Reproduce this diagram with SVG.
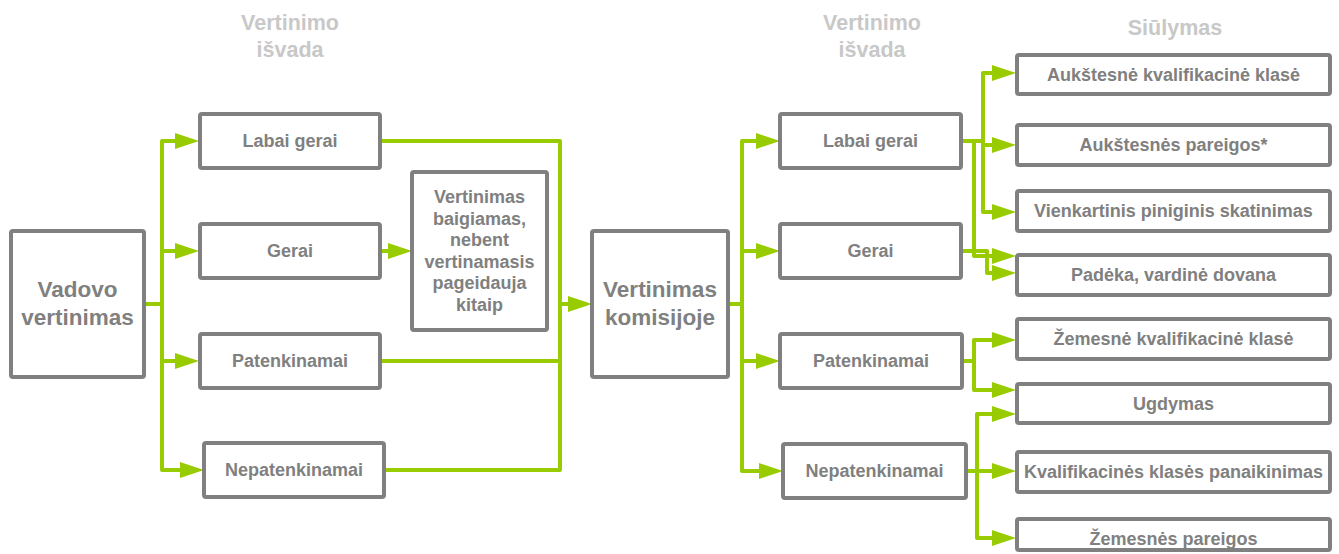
<svg xmlns="http://www.w3.org/2000/svg" width="1339" height="554" viewBox="0 0 1339 554">
  <defs>
    <style>
      .box { fill: #ffffff; stroke: #808080; stroke-width: 4; }
      .lbl { font-family: "Liberation Sans", Arial, sans-serif; font-weight: bold; font-size: 18px; fill: #808080; text-anchor: middle; }
      .big { font-size: 22.5px; }
      .hdr { font-family: "Liberation Sans", Arial, sans-serif; font-weight: bold; font-size: 21.5px; fill: #c8c8c8; text-anchor: middle; }
      .link { fill: none; stroke: #99cc00; stroke-width: 4; stroke-linejoin: round; stroke-linecap: round; }
      .arr { marker-end: url(#head); }
    </style>
    <marker id="head" viewBox="0 0 24 16" refX="4" refY="8" markerWidth="24" markerHeight="16" markerUnits="userSpaceOnUse" orient="auto">
      <path d="M0,0 L24,8 L0,16 z" fill="#99cc00"/>
    </marker>
  </defs>

  <!-- column headings -->
  <g id="headings">
    <text class="hdr" x="290" y="30">Vertinimo</text>
    <text class="hdr" x="290" y="57">išvada</text>
    <text class="hdr" x="872" y="30">Vertinimo</text>
    <text class="hdr" x="872" y="57">išvada</text>
    <text class="hdr" x="1175" y="35">Siūlymas</text>
  </g>

  <!-- connectors -->
  <g id="connectors">
    <!-- manager evaluation fan-out -->
    <path class="link" d="M144,304 H162"/>
    <path class="link arr" d="M162,304 V141 H179"/>
    <path class="link arr" d="M162,304 V251 H179"/>
    <path class="link arr" d="M162,304 V361 H179"/>
    <path class="link arr" d="M162,304 V470 H184"/>
    <!-- Gerai to closing note -->
    <path class="link arr" d="M380,251 H392"/>
    <!-- collecting bus to commission -->
    <path class="link" d="M380,141 H560 V470 H384"/>
    <path class="link" d="M380,361 H560"/>
    <path class="link arr" d="M560,304 H572"/>
    <!-- commission fan-out -->
    <path class="link" d="M728,304 H742"/>
    <path class="link arr" d="M742,304 V141 H760"/>
    <path class="link arr" d="M742,304 V251 H760"/>
    <path class="link arr" d="M742,304 V361 H760"/>
    <path class="link arr" d="M742,304 V471 H763"/>
    <!-- Labai gerai proposals -->
    <path class="link arr" d="M961,141 H983 V73 H996"/>
    <path class="link arr" d="M983,141 V145 H996"/>
    <path class="link arr" d="M983,141 V212 H996"/>
    <path class="link arr" d="M974,141 V256 H996"/>
    <!-- Gerai proposal -->
    <path class="link arr" d="M961,251 H987 V273 H996"/>
    <!-- Patenkinamai proposals -->
    <path class="link arr" d="M962,361 H974 V340 H996"/>
    <path class="link arr" d="M974,361 V390 H996"/>
    <!-- Nepatenkinamai proposals -->
    <path class="link arr" d="M966,471 H977 V414 H996"/>
    <path class="link arr" d="M977,471 H996"/>
    <path class="link arr" d="M977,471 V538 H996"/>
  </g>

  <!-- left stage -->
  <g id="vadovo-vertinimas">
    <rect class="box" x="11" y="231" width="133" height="146" rx="2"/>
    <text class="lbl big" x="77.5" y="297">Vadovo</text>
    <text class="lbl big" x="77.5" y="325">vertinimas</text>
  </g>
  <g id="l-labai-gerai">
    <rect class="box" x="200" y="114" width="180" height="54" rx="2"/>
    <text class="lbl" x="290" y="147">Labai gerai</text>
  </g>
  <g id="l-gerai">
    <rect class="box" x="200" y="224" width="180" height="54" rx="2"/>
    <text class="lbl" x="290" y="257">Gerai</text>
  </g>
  <g id="l-patenkinamai">
    <rect class="box" x="200" y="334" width="180" height="54" rx="2"/>
    <text class="lbl" x="290" y="367">Patenkinamai</text>
  </g>
  <g id="l-nepatenkinamai">
    <rect class="box" x="204" y="443" width="180" height="54" rx="2"/>
    <text class="lbl" x="294" y="476">Nepatenkinamai</text>
  </g>
  <g id="baigiamas">
    <rect class="box" x="412" y="172" width="135" height="158" rx="2"/>
    <text class="lbl" x="479.5" y="203">Vertinimas</text>
    <text class="lbl" x="479.5" y="224.5">baigiamas,</text>
    <text class="lbl" x="479.5" y="246">nebent</text>
    <text class="lbl" x="479.5" y="267.5">vertinamasis</text>
    <text class="lbl" x="479.5" y="289">pageidauja</text>
    <text class="lbl" x="479.5" y="310.5">kitaip</text>
  </g>

  <!-- commission stage -->
  <g id="komisija">
    <rect class="box" x="592" y="231" width="136" height="146" rx="2"/>
    <text class="lbl big" x="660" y="297">Vertinimas</text>
    <text class="lbl big" x="660" y="325">komisijoje</text>
  </g>
  <g id="r-labai-gerai">
    <rect class="box" x="780" y="114" width="181" height="54" rx="2"/>
    <text class="lbl" x="870.5" y="147">Labai gerai</text>
  </g>
  <g id="r-gerai">
    <rect class="box" x="780" y="224" width="181" height="54" rx="2"/>
    <text class="lbl" x="870.5" y="257">Gerai</text>
  </g>
  <g id="r-patenkinamai">
    <rect class="box" x="780" y="334" width="182" height="54" rx="2"/>
    <text class="lbl" x="871" y="367">Patenkinamai</text>
  </g>
  <g id="r-nepatenkinamai">
    <rect class="box" x="783" y="444" width="183" height="54" rx="2"/>
    <text class="lbl" x="874.5" y="477">Nepatenkinamai</text>
  </g>

  <!-- proposals -->
  <g id="p-kval-aukst">
    <rect class="box" x="1017" y="55" width="313" height="39" rx="2"/>
    <text class="lbl" x="1173.5" y="80.5">Aukštesnė kvalifikacinė klasė</text>
  </g>
  <g id="p-pareigos-aukst">
    <rect class="box" x="1017" y="125" width="313" height="40" rx="2"/>
    <text class="lbl" x="1173.5" y="151">Aukštesnės pareigos*</text>
  </g>
  <g id="p-skatinimas">
    <rect class="box" x="1017" y="191" width="313" height="40" rx="2"/>
    <text class="lbl" x="1173.5" y="217">Vienkartinis piniginis skatinimas</text>
  </g>
  <g id="p-padeka">
    <rect class="box" x="1017" y="255" width="313" height="40" rx="2"/>
    <text class="lbl" x="1173.5" y="281">Padėka, vardinė dovana</text>
  </g>
  <g id="p-kval-zem">
    <rect class="box" x="1017" y="319" width="313" height="40" rx="2"/>
    <text class="lbl" x="1173.5" y="345">Žemesnė kvalifikacinė klasė</text>
  </g>
  <g id="p-ugdymas">
    <rect class="box" x="1017" y="384" width="313" height="39" rx="2"/>
    <text class="lbl" x="1173.5" y="409.5">Ugdymas</text>
  </g>
  <g id="p-panaikinimas">
    <rect class="box" x="1017" y="452" width="313" height="40" rx="2"/>
    <text class="lbl" x="1173.5" y="478">Kvalifikacinės klasės panaikinimas</text>
  </g>
  <g id="p-pareigos-zem">
    <rect class="box" x="1017" y="519" width="313" height="31" rx="2"/>
    <text class="lbl" x="1173.5" y="545">Žemesnės pareigos</text>
  </g>
</svg>
